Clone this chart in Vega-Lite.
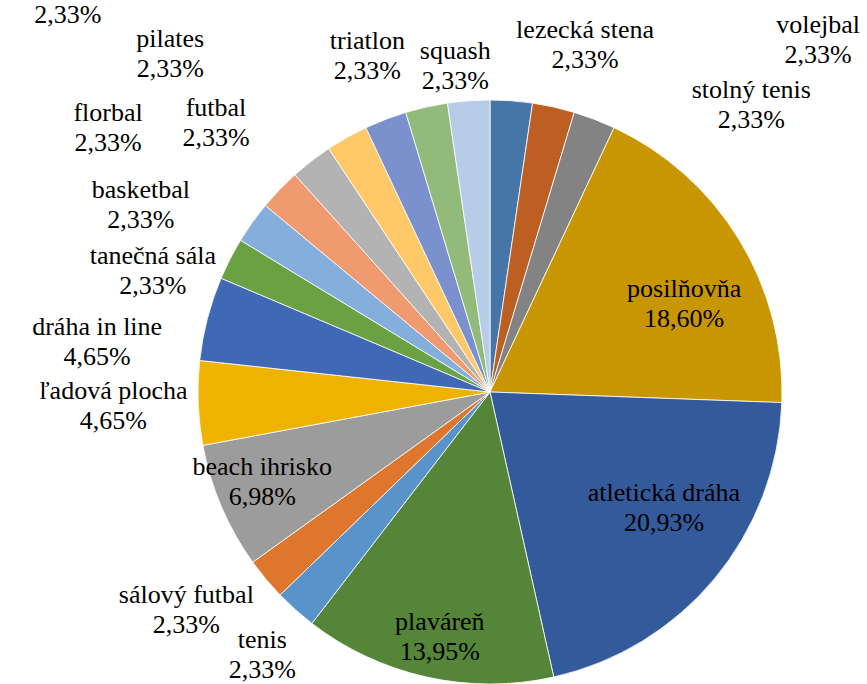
{
  "$schema": "https://vega.github.io/schema/vega-lite/v6.json",
  "autosize": {"type": "none"},
  "width": 754,
  "height": 584,
  "padding": {"left": 113, "top": 100, "right": 0, "bottom": 0},
  "background": "white",
  "view": {"stroke": null},
  "config": {
    "locale": {"number": {"decimal": ",", "thousands": " ", "grouping": [3], "currency": ["", " €"]}},
    "text": {"font": "Liberation Serif", "fontSize": 26, "align": "center", "baseline": "middle", "color": "black"}
  },
  "data": {
    "values": [
      {"sport": "lezecká stena", "share": 0.0233},
      {"sport": "volejbal", "share": 0.0233},
      {"sport": "stolný tenis", "share": 0.0233},
      {"sport": "posilňovňa", "share": 0.1860},
      {"sport": "atletická dráha", "share": 0.2093},
      {"sport": "plaváreň", "share": 0.1395},
      {"sport": "tenis", "share": 0.0233},
      {"sport": "sálový futbal", "share": 0.0233},
      {"sport": "beach ihrisko", "share": 0.0698},
      {"sport": "ľadová plocha", "share": 0.0465},
      {"sport": "dráha in line", "share": 0.0465},
      {"sport": "tanečná sála", "share": 0.0233},
      {"sport": "basketbal", "share": 0.0233},
      {"sport": "florbal", "share": 0.0233},
      {"sport": "futbal", "share": 0.0233},
      {"sport": "pilates", "share": 0.0233},
      {"sport": "bedminton", "share": 0.0233},
      {"sport": "triatlon", "share": 0.0233},
      {"sport": "squash", "share": 0.0233}
    ]
  },
  "transform": [{"window": [{"op": "row_number", "as": "rn"}]}],
  "encoding": {
    "theta": {"field": "share", "type": "quantitative", "stack": true},
    "order": {"field": "rn", "type": "quantitative"},
    "detail": {"field": "sport"}
  },
  "layer": [
    {
      "mark": {"type": "arc", "stroke": "white", "strokeWidth": 0.8},
      "encoding": {
        "color": {
          "field": "sport",
          "type": "nominal",
          "legend": null,
          "scale": {
            "domain": ["lezecká stena", "volejbal", "stolný tenis", "posilňovňa", "atletická dráha", "plaváreň", "tenis", "sálový futbal", "beach ihrisko", "ľadová plocha", "dráha in line", "tanečná sála", "basketbal", "florbal", "futbal", "pilates", "bedminton", "triatlon", "squash"],
            "range": ["#4676A8", "#BD5F22", "#838383", "#C89600", "#335A9A", "#548538", "#5894CA", "#DE762E", "#9C9C9C", "#EEB300", "#3F69B4", "#6AA142", "#84AFDC", "#F09A70", "#B3B3B3", "#FFC96A", "#7A91CD", "#92BA7A", "#B7CCE7"]
          }
        }
      }
    },
    {"mark": {"type": "text", "radius": 358, "thetaOffset": -0.13, "dy": -15}, "encoding": {"text": {"condition": {"test": "indexof(['triatlon','tanečná sála'], datum.sport) >= 0", "field": "sport"}, "value": ""}}},
    {"mark": {"type": "text", "radius": 358, "thetaOffset": -0.13, "dy": 15}, "encoding": {"text": {"condition": {"test": "indexof(['triatlon','tanečná sála'], datum.sport) >= 0", "field": "share", "type": "quantitative", "format": ".2%"}, "value": ""}}},
    {"mark": {"type": "text", "radius": 396, "thetaOffset": -0.128, "dy": -15}, "encoding": {"text": {"condition": {"test": "indexof(['basketbal','dráha in line'], datum.sport) >= 0", "field": "sport"}, "value": ""}}},
    {"mark": {"type": "text", "radius": 396, "thetaOffset": -0.128, "dy": 15}, "encoding": {"text": {"condition": {"test": "indexof(['basketbal','dráha in line'], datum.sport) >= 0", "field": "share", "type": "quantitative", "format": ".2%"}, "value": ""}}},
    {"mark": {"type": "text", "radius": 384, "thetaOffset": -0.136, "dy": -15}, "encoding": {"text": {"condition": {"test": "datum.sport === 'futbal'", "field": "sport"}, "value": ""}}},
    {"mark": {"type": "text", "radius": 384, "thetaOffset": -0.136, "dy": 15}, "encoding": {"text": {"condition": {"test": "datum.sport === 'futbal'", "field": "share", "type": "quantitative", "format": ".2%"}, "value": ""}}},
    {"mark": {"type": "text", "radius": 465, "thetaOffset": -0.246, "dy": -15}, "encoding": {"text": {"condition": {"test": "datum.sport === 'pilates'", "field": "sport"}, "value": ""}}},
    {"mark": {"type": "text", "radius": 465, "thetaOffset": -0.246, "dy": 15}, "encoding": {"text": {"condition": {"test": "datum.sport === 'pilates'", "field": "share", "type": "quantitative", "format": ".2%"}, "value": ""}}},
    {"mark": {"type": "text", "radius": 464, "thetaOffset": -0.162, "dy": -15}, "encoding": {"text": {"condition": {"test": "datum.sport === 'florbal'", "field": "sport"}, "value": ""}}},
    {"mark": {"type": "text", "radius": 464, "thetaOffset": -0.162, "dy": 15}, "encoding": {"text": {"condition": {"test": "datum.sport === 'florbal'", "field": "share", "type": "quantitative", "format": ".2%"}, "value": ""}}},
    {"mark": {"type": "text", "radius": 377, "thetaOffset": 0, "dy": -15}, "encoding": {"text": {"condition": {"test": "datum.sport === 'ľadová plocha'", "field": "sport"}, "value": ""}}},
    {"mark": {"type": "text", "radius": 377, "thetaOffset": 0, "dy": 15}, "encoding": {"text": {"condition": {"test": "datum.sport === 'ľadová plocha'", "field": "share", "type": "quantitative", "format": ".2%"}, "value": ""}}},
    {"mark": {"type": "text", "radius": 374, "thetaOffset": 0.072, "dy": -15}, "encoding": {"text": {"condition": {"test": "datum.sport === 'sálový futbal'", "field": "sport"}, "value": ""}}},
    {"mark": {"type": "text", "radius": 374, "thetaOffset": 0.072, "dy": 15}, "encoding": {"text": {"condition": {"test": "datum.sport === 'sálový futbal'", "field": "share", "type": "quantitative", "format": ".2%"}, "value": ""}}},
    {"mark": {"type": "text", "radius": 348, "thetaOffset": -0.016, "dy": -15}, "encoding": {"text": {"condition": {"test": "datum.sport === 'tenis'", "field": "sport"}, "value": ""}}},
    {"mark": {"type": "text", "radius": 348, "thetaOffset": -0.016, "dy": 15}, "encoding": {"text": {"condition": {"test": "datum.sport === 'tenis'", "field": "share", "type": "quantitative", "format": ".2%"}, "value": ""}}},
    {"mark": {"type": "text", "radius": 328, "thetaOffset": -0.033, "dy": -15}, "encoding": {"text": {"condition": {"test": "datum.sport === 'squash'", "field": "sport"}, "value": ""}}},
    {"mark": {"type": "text", "radius": 328, "thetaOffset": -0.033, "dy": 15}, "encoding": {"text": {"condition": {"test": "datum.sport === 'squash'", "field": "share", "type": "quantitative", "format": ".2%"}, "value": ""}}},
    {"mark": {"type": "text", "radius": 250, "thetaOffset": -0.016, "dy": -15}, "encoding": {"text": {"condition": {"test": "datum.sport === 'plaváreň'", "field": "sport"}, "value": ""}}},
    {"mark": {"type": "text", "radius": 250, "thetaOffset": -0.016, "dy": 15}, "encoding": {"text": {"condition": {"test": "datum.sport === 'plaváreň'", "field": "share", "type": "quantitative", "format": ".2%"}, "value": ""}}},
    {"mark": {"type": "text", "radius": 245, "thetaOffset": 0.026, "dy": -15}, "encoding": {"text": {"condition": {"test": "datum.sport === 'beach ihrisko'", "field": "sport"}, "value": ""}}},
    {"mark": {"type": "text", "radius": 245, "thetaOffset": 0.026, "dy": 15}, "encoding": {"text": {"condition": {"test": "datum.sport === 'beach ihrisko'", "field": "share", "type": "quantitative", "format": ".2%"}, "value": ""}}},
    {"mark": {"type": "text", "radius": 213, "thetaOffset": 0.124, "dy": -15}, "encoding": {"text": {"condition": {"test": "datum.sport === 'posilňovňa'", "field": "sport"}, "value": ""}}},
    {"mark": {"type": "text", "radius": 213, "thetaOffset": 0.124, "dy": 15}, "encoding": {"text": {"condition": {"test": "datum.sport === 'posilňovňa'", "field": "share", "type": "quantitative", "format": ".2%"}, "value": ""}}},
    {"mark": {"type": "text", "radius": 209, "thetaOffset": -0.106, "dy": -15}, "encoding": {"text": {"condition": {"test": "datum.sport === 'atletická dráha'", "field": "sport"}, "value": ""}}},
    {"mark": {"type": "text", "radius": 209, "thetaOffset": -0.106, "dy": 15}, "encoding": {"text": {"condition": {"test": "datum.sport === 'atletická dráha'", "field": "share", "type": "quantitative", "format": ".2%"}, "value": ""}}},
    {"mark": {"type": "text", "radius": 360, "thetaOffset": 0.194, "dy": -15}, "encoding": {"text": {"condition": {"test": "datum.sport === 'lezecká stena'", "field": "sport"}, "value": ""}}},
    {"mark": {"type": "text", "radius": 360, "thetaOffset": 0.194, "dy": 15}, "encoding": {"text": {"condition": {"test": "datum.sport === 'lezecká stena'", "field": "share", "type": "quantitative", "format": ".2%"}, "value": ""}}},
    {"mark": {"type": "text", "radius": 388, "thetaOffset": 0.373, "dy": -15}, "encoding": {"text": {"condition": {"test": "datum.sport === 'stolný tenis'", "field": "sport"}, "value": ""}}},
    {"mark": {"type": "text", "radius": 388, "thetaOffset": 0.373, "dy": 15}, "encoding": {"text": {"condition": {"test": "datum.sport === 'stolný tenis'", "field": "share", "type": "quantitative", "format": ".2%"}, "value": ""}}},
    {"mark": {"type": "text", "radius": 481, "thetaOffset": 0.531, "dy": -15}, "encoding": {"text": {"condition": {"test": "datum.sport === 'volejbal'", "field": "sport"}, "value": ""}}},
    {"mark": {"type": "text", "radius": 481, "thetaOffset": 0.531, "dy": 15}, "encoding": {"text": {"condition": {"test": "datum.sport === 'volejbal'", "field": "share", "type": "quantitative", "format": ".2%"}, "value": ""}}},
    {"mark": {"type": "text", "radius": 576, "thetaOffset": -0.457, "dy": -15}, "encoding": {"text": {"condition": {"test": "datum.sport === 'bedminton'", "field": "sport"}, "value": ""}}},
    {"mark": {"type": "text", "radius": 576, "thetaOffset": -0.457, "dy": 15}, "encoding": {"text": {"condition": {"test": "datum.sport === 'bedminton'", "field": "share", "type": "quantitative", "format": ".2%"}, "value": ""}}}
  ]
}
